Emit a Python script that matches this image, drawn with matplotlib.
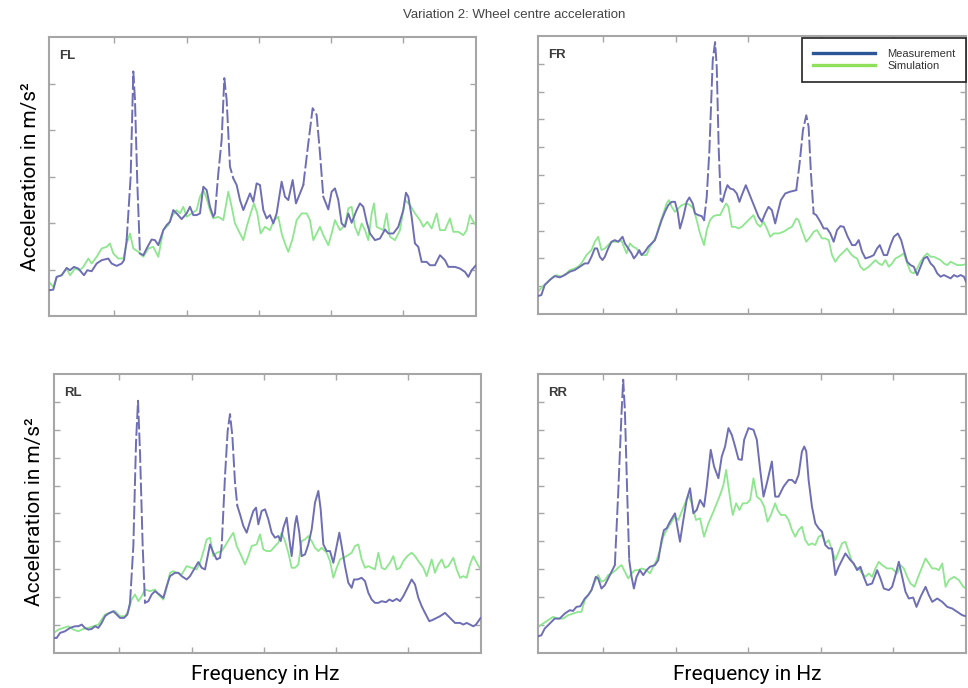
import numpy as np
import matplotlib
matplotlib.use("Agg")
import matplotlib.pyplot as plt
from matplotlib.lines import Line2D

# spectra per wheel: frequency (Hz) and acceleration (m/s^2)
fl_meas_f = [0.0, 1.3, 2.3, 3.8, 5.3, 6.3, 7.5, 8.8, 10.5, 11.5, 12.8, 14.3, 15.8, 17.8, 18.8, 20.3, 21.8, 22.5, 23.3, 24.5,
             25.3, 25.8, 26.5, 27.3, 28.3, 29.3, 30.8, 31.8, 32.8, 34.3, 35.3, 36.3, 37.3, 38.3, 39.8, 41.3, 42.3, 43.3, 44.3, 45.3,
             46.3, 47.3, 48.3, 49.3, 49.8, 50.8, 51.8, 52.6, 53.3, 54.3, 55.3, 56.3, 57.3, 58.3, 59.3, 60.3, 61.3, 62.3, 63.3, 64.3,
             65.3, 66.3, 67.3, 68.3, 69.8, 70.8, 71.8, 73.1, 74.1, 75.3, 76.3, 77.8, 79.1, 80.3, 81.3, 82.3, 83.8, 84.8, 85.8, 86.8,
             87.8, 88.8, 89.8, 90.8, 92.3, 93.3, 94.3, 95.3, 96.3, 97.8, 99.3, 100.8, 101.8, 103.3, 104.8, 106.3, 107.1, 107.8, 108.8, 109.8,
             110.8, 111.8, 113.3, 114.3, 115.8, 117.3, 118.8, 119.8, 121.8, 123.3, 124.8, 125.8, 126.8, 128.1]
fl_meas_a = [0.77, 0.79, 1.17, 1.22, 1.44, 1.37, 1.47, 1.42, 1.22, 1.37, 1.34, 1.57, 1.67, 1.72, 1.57, 1.50, 1.57, 1.67, 2.27, 4.17,
             7.32, 6.47, 3.97, 1.87, 1.82, 2.02, 2.29, 2.27, 2.12, 2.57, 2.72, 2.82, 3.17, 3.07, 2.90, 3.07, 3.27, 3.02, 3.02, 3.07,
             3.87, 3.77, 3.27, 2.97, 3.07, 4.27, 5.27, 7.12, 6.47, 4.47, 4.12, 3.92, 3.47, 3.17, 3.42, 3.67, 3.42, 3.97, 3.92, 3.17,
             2.92, 3.02, 2.77, 3.07, 4.02, 3.57, 3.47, 4.07, 3.37, 3.67, 3.92, 5.17, 6.22, 6.02, 4.87, 3.57, 3.19, 3.72, 3.82, 3.47,
             2.77, 2.67, 3.07, 2.79, 3.17, 3.37, 3.27, 2.82, 2.47, 2.27, 2.32, 2.59, 2.47, 2.47, 2.67, 3.17, 3.69, 3.57, 2.97, 2.17,
             2.07, 1.62, 1.62, 1.52, 1.52, 1.82, 1.67, 1.47, 1.47, 1.42, 1.32, 1.17, 1.37, 1.52]
fl_sim_f = [0.0, 1.3, 2.3, 3.8, 5.3, 6.3, 7.8, 9.3, 10.3, 11.8, 12.8, 14.3, 15.8, 17.3, 18.3, 19.3, 20.8, 22.3, 23.3, 24.3,
            25.3, 26.8, 28.3, 29.8, 31.3, 32.8, 34.3, 35.8, 36.8, 38.3, 39.3, 40.3, 41.3, 42.8, 44.3, 45.3, 46.3, 47.3, 48.3, 49.3,
            50.8, 52.3, 53.8, 54.8, 55.8, 57.3, 58.3, 59.3, 60.5, 61.5, 62.5, 63.5, 64.8, 66.3, 67.5, 68.8, 69.8, 70.8, 71.8, 73.1,
            74.3, 75.8, 77.3, 78.3, 79.3, 80.3, 81.3, 82.3, 83.8, 84.8, 85.8, 87.3, 88.8, 89.8, 90.8, 91.8, 92.8, 93.8, 94.8, 95.8,
            96.8, 97.5, 98.3, 99.3, 100.3, 101.3, 102.3, 103.8, 105.3, 106.8, 108.3, 109.8, 111.3, 112.3, 113.5, 114.8, 116.3, 117.3, 118.8, 120.3,
            121.3, 122.8, 124.3, 125.3, 126.3, 127.3, 128.1]
fl_sim_a = [1.02, 0.87, 1.17, 1.22, 1.42, 1.22, 1.42, 1.37, 1.47, 1.72, 1.57, 1.77, 2.02, 2.07, 2.17, 1.87, 1.72, 1.72, 2.17, 2.47,
            2.02, 1.92, 1.77, 2.02, 2.07, 1.77, 2.57, 2.72, 2.97, 3.17, 3.07, 3.27, 2.97, 3.07, 3.17, 3.57, 3.77, 3.52, 3.17, 2.92,
            2.97, 2.87, 3.72, 3.27, 2.77, 2.47, 2.27, 2.67, 3.07, 3.37, 3.07, 2.47, 2.67, 2.57, 2.87, 2.97, 2.47, 2.17, 1.92, 2.32,
            2.87, 3.07, 3.07, 2.87, 2.27, 2.47, 2.67, 2.42, 2.12, 2.47, 2.87, 2.57, 2.72, 3.22, 3.27, 2.67, 2.42, 2.77, 2.57, 2.27,
            3.07, 3.37, 2.67, 2.62, 2.57, 3.07, 2.37, 2.27, 2.57, 3.47, 3.32, 3.07, 2.87, 2.67, 2.82, 2.62, 3.07, 2.57, 2.57, 2.92,
            2.52, 2.52, 2.42, 2.57, 3.02, 2.82, 2.72]

fr_meas_f = [0.0, 1.0, 2.0, 3.5, 5.0, 6.5, 8.0, 9.5, 11.0, 12.5, 14.0, 15.0, 16.0, 17.0, 17.7, 18.5, 19.3, 20.0, 21.0, 22.0,
             23.0, 24.0, 25.3, 26.0, 27.0, 28.0, 28.7, 29.5, 30.3, 31.0, 32.0, 33.0, 34.0, 35.0, 36.0, 37.0, 38.0, 39.0, 40.0, 41.0,
             41.8, 42.5, 43.5, 44.5, 45.3, 46.3, 47.0, 48.0, 49.0, 49.7, 50.5, 51.3, 52.3, 53.0, 53.5, 54.1, 54.7, 55.2, 56.0, 56.7,
             57.5, 58.5, 59.5, 60.3, 61.0, 62.2, 63.0, 64.0, 65.0, 66.0, 67.0, 68.0, 69.0, 70.0, 71.0, 71.7, 72.7, 74.0, 75.3, 76.5,
             77.3, 78.3, 79.3, 80.3, 81.0, 81.7, 82.5, 83.3, 84.5, 85.5, 86.5, 87.5, 88.5, 89.5, 90.5, 91.5, 92.7, 94.0, 95.0, 96.0,
             97.0, 98.0, 99.5, 100.5, 101.5, 102.3, 103.5, 104.5, 105.5, 106.5, 107.7, 108.7, 109.5, 110.5, 111.5, 112.5, 113.5, 114.5, 115.5, 116.5,
             117.5, 118.5, 119.5, 120.5, 121.5, 122.5, 123.5, 124.5, 125.5, 126.5, 127.5, 128.1]
fr_meas_a = [0.54, 0.57, 0.87, 1.02, 1.14, 1.10, 1.17, 1.27, 1.32, 1.42, 1.52, 1.52, 1.72, 1.97, 1.97, 1.72, 1.62, 1.72, 1.97, 2.17,
             2.22, 2.17, 2.32, 2.12, 1.97, 1.82, 1.67, 1.77, 1.92, 1.77, 1.87, 2.02, 2.12, 2.22, 2.52, 2.82, 3.07, 3.27, 3.37, 3.37,
             3.07, 2.57, 2.92, 3.37, 3.50, 3.32, 3.02, 2.97, 2.94, 2.82, 3.52, 4.92, 7.62, 8.17, 7.42, 4.92, 3.42, 3.37, 3.67, 3.87,
             3.77, 3.74, 3.62, 3.37, 3.57, 3.87, 3.67, 3.42, 3.17, 2.92, 2.77, 3.02, 3.22, 3.12, 2.72, 3.02, 3.42, 3.62, 3.67, 3.70,
             3.72, 4.52, 5.52, 5.97, 5.62, 4.22, 3.02, 2.97, 2.77, 2.57, 2.57, 2.42, 2.17, 2.52, 2.64, 2.62, 2.32, 2.07, 2.07, 2.22,
             1.87, 1.67, 1.72, 1.77, 1.97, 2.07, 1.77, 1.77, 2.07, 2.32, 2.42, 2.22, 1.92, 1.57, 1.47, 1.42, 1.17, 1.42, 1.67, 1.72,
             1.52, 1.42, 1.22, 1.12, 1.17, 1.12, 1.07, 1.17, 1.12, 1.17, 1.12, 0.97]
fr_sim_f = [0.0, 1.5, 2.5, 4.0, 5.5, 7.0, 8.5, 9.5, 11.0, 12.0, 13.0, 14.5, 16.0, 17.0, 18.0, 19.0, 20.0, 21.0, 22.0, 23.5,
            25.0, 26.5, 27.5, 28.5, 29.5, 30.5, 31.5, 32.5, 33.5, 34.5, 35.5, 36.5, 37.5, 38.5, 39.2, 40.0, 41.0, 42.0, 43.0, 44.5,
            45.5, 46.5, 47.5, 48.5, 49.7, 50.5, 51.5, 52.5, 53.5, 54.5, 55.5, 56.3, 57.0, 58.0, 59.0, 60.0, 61.0, 62.5, 63.5, 64.5,
            65.5, 66.5, 67.5, 68.5, 69.5, 70.5, 72.0, 73.5, 75.0, 76.0, 77.3, 78.0, 79.0, 80.3, 81.5, 82.5, 83.5, 85.0, 86.0, 87.0,
            88.0, 89.0, 90.0, 91.5, 92.5, 93.5, 94.5, 95.5, 96.5, 97.5, 99.0, 100.0, 101.0, 102.0, 103.0, 104.0, 105.0, 106.0, 107.0, 108.0,
            109.5, 110.5, 111.5, 112.5, 113.5, 114.5, 115.5, 116.5, 117.5, 118.5, 119.5, 120.5, 121.5, 122.5, 123.5, 124.5, 125.5, 127.0, 128.1]
fr_sim_a = [0.67, 0.84, 0.92, 1.07, 1.17, 1.12, 1.22, 1.32, 1.37, 1.42, 1.52, 1.77, 1.92, 2.17, 2.32, 1.92, 1.97, 2.07, 2.17, 2.17,
            2.20, 1.82, 2.12, 2.02, 1.97, 1.82, 1.77, 1.77, 2.02, 2.17, 2.37, 2.72, 3.02, 3.32, 3.42, 3.22, 3.07, 3.17, 3.27, 3.32,
            3.27, 3.17, 2.82, 2.42, 2.07, 2.52, 2.82, 2.94, 2.97, 2.97, 3.17, 3.32, 3.22, 2.62, 2.62, 2.57, 2.62, 2.77, 2.87, 2.97,
            2.72, 2.62, 2.77, 2.57, 2.32, 2.42, 2.42, 2.47, 2.57, 2.62, 2.87, 2.82, 2.52, 2.17, 2.32, 2.47, 2.52, 2.27, 2.27, 2.22,
            1.77, 1.57, 1.72, 1.87, 1.97, 1.82, 1.72, 1.67, 1.42, 1.32, 1.42, 1.52, 1.62, 1.52, 1.47, 1.62, 1.42, 1.52, 1.67, 1.72,
            1.82, 1.52, 1.27, 1.22, 1.37, 1.57, 1.72, 1.82, 1.72, 1.72, 1.67, 1.62, 1.52, 1.47, 1.57, 1.52, 1.47, 1.47, 1.50]

rl_meas_f = [0.0, 0.8, 1.8, 3.3, 4.8, 6.3, 7.3, 8.3, 9.3, 10.3, 11.3, 12.3, 13.3, 14.3, 15.3, 16.3, 17.8, 18.8, 19.8, 21.0,
             22.0, 22.8, 23.8, 24.6, 25.2, 25.8, 26.6, 27.3, 28.3, 29.3, 30.3, 31.6, 32.8, 33.8, 34.8, 36.3, 37.3, 38.3, 39.8, 40.8,
             42.3, 43.3, 44.3, 45.3, 46.3, 46.8, 47.8, 48.8, 49.8, 50.3, 51.3, 52.1, 52.8, 53.5, 54.3, 55.0, 55.8, 56.8, 57.8, 59.0,
             59.8, 60.6, 61.3, 62.3, 63.3, 64.3, 65.3, 66.3, 67.3, 68.0, 68.8, 69.8, 70.6, 71.3, 72.3, 72.8, 73.6, 74.3, 75.3, 76.3,
             77.3, 78.3, 79.3, 80.0, 80.8, 81.8, 82.8, 83.8, 84.8, 85.6, 86.3, 87.3, 88.3, 89.3, 90.0, 91.0, 92.3, 93.3, 94.3, 95.3,
             96.3, 97.3, 98.3, 99.6, 100.6, 101.6, 102.8, 103.8, 104.8, 105.8, 107.3, 108.3, 109.3, 110.3, 111.3, 112.6, 113.8, 114.8, 115.8, 117.3,
             118.3, 119.3, 120.3, 121.8, 122.8, 123.8, 124.8, 125.8, 126.6, 128.0]
rl_meas_a = [0.45, 0.45, 0.60, 0.65, 0.75, 0.80, 0.80, 0.85, 0.75, 0.70, 0.72, 0.80, 0.75, 0.90, 1.10, 1.18, 1.25, 1.15, 1.05, 1.05,
             1.15, 1.50, 3.20, 6.30, 7.55, 6.00, 3.20, 1.50, 1.55, 1.75, 1.85, 1.75, 1.65, 2.00, 2.30, 2.40, 2.40, 2.30, 2.20, 2.30,
             2.55, 2.72, 2.55, 2.50, 3.00, 3.25, 3.00, 2.80, 2.85, 3.20, 5.30, 6.65, 7.15, 6.50, 5.10, 4.40, 4.15, 3.80, 3.60, 4.00,
             4.25, 4.35, 3.85, 4.25, 4.30, 4.00, 3.60, 3.45, 3.50, 3.35, 3.75, 4.05, 3.40, 2.90, 3.85, 4.10, 3.60, 2.90, 2.95, 3.25,
             3.70, 4.50, 4.85, 4.30, 3.25, 3.05, 3.05, 2.70, 3.20, 3.60, 3.20, 2.60, 2.10, 1.95, 2.20, 2.20, 2.25, 2.15, 1.80, 1.60,
             1.50, 1.50, 1.55, 1.52, 1.60, 1.55, 1.62, 1.55, 1.70, 1.90, 2.20, 2.05, 1.65, 1.40, 1.20, 0.95, 1.00, 1.05, 1.10, 1.20,
             1.10, 1.00, 0.90, 0.90, 0.85, 0.90, 0.85, 0.80, 0.85, 1.05]
rl_sim_f = [0.0, 1.3, 2.8, 4.3, 5.8, 7.3, 8.8, 10.3, 11.8, 13.3, 14.3, 15.3, 16.8, 18.3, 19.8, 21.3, 22.3, 23.3, 24.3, 25.3,
            26.3, 27.3, 28.8, 30.3, 31.3, 32.8, 33.8, 34.8, 35.8, 36.8, 38.3, 39.8, 41.3, 42.8, 43.8, 45.0, 45.8, 46.8, 47.8, 48.8,
            50.3, 51.3, 52.8, 53.8, 54.8, 56.0, 57.3, 58.3, 59.3, 60.8, 61.8, 62.8, 63.8, 65.0, 66.3, 67.3, 68.3, 69.3, 70.3, 71.3,
            72.3, 73.3, 74.3, 75.3, 76.3, 77.3, 78.3, 79.3, 80.3, 81.8, 82.8, 83.8, 84.8, 85.8, 86.8, 87.8, 89.3, 90.3, 91.3, 92.3,
            93.3, 94.3, 95.3, 96.3, 97.3, 98.3, 99.3, 100.8, 101.8, 102.8, 103.8, 104.8, 106.0, 107.3, 108.3, 109.3, 110.8, 111.8, 113.3, 114.3,
            115.3, 116.3, 117.3, 118.3, 119.8, 120.8, 121.8, 122.8, 123.8, 124.8, 125.8, 126.8, 128.0]
rl_sim_a = [0.60, 0.70, 0.75, 0.80, 0.70, 0.65, 0.72, 0.75, 0.80, 0.85, 1.00, 1.15, 1.20, 1.25, 1.10, 1.10, 1.25, 1.60, 1.75, 1.55,
            1.70, 1.90, 1.85, 1.90, 1.75, 1.60, 1.95, 2.40, 2.45, 2.40, 2.35, 2.60, 2.55, 2.50, 2.70, 3.10, 3.40, 3.45, 2.90, 3.00,
            3.05, 3.20, 3.45, 3.60, 3.20, 2.95, 2.65, 2.90, 3.20, 3.25, 3.55, 3.10, 3.05, 3.05, 3.20, 3.30, 3.60, 3.35, 3.00, 2.55,
            2.55, 2.65, 3.35, 3.40, 3.50, 3.35, 3.15, 3.05, 3.15, 3.00, 2.75, 2.25, 2.55, 2.80, 2.85, 2.90, 3.00, 3.20, 3.25, 2.80,
            2.55, 2.60, 2.55, 2.50, 3.00, 2.55, 2.50, 2.70, 2.90, 2.50, 2.55, 2.75, 2.90, 3.00, 2.90, 2.75, 2.55, 2.30, 2.80, 2.40,
            2.65, 2.80, 2.55, 2.60, 2.85, 2.50, 2.25, 2.30, 2.25, 2.65, 2.90, 2.70, 2.50]

rr_meas_f = [0.0, 1.0, 2.0, 3.5, 5.0, 6.5, 8.0, 9.5, 10.5, 11.5, 12.7, 14.0, 15.0, 16.0, 17.3, 18.0, 19.0, 20.0, 21.0, 22.0,
             23.0, 24.0, 25.0, 25.5, 26.0, 26.7, 27.3, 28.0, 28.7, 29.5, 30.5, 31.5, 32.5, 33.5, 35.0, 36.0, 37.0, 37.7, 38.5, 39.5,
             41.0, 41.7, 42.5, 43.5, 44.5, 45.5, 46.5, 47.5, 48.5, 49.7, 50.5, 51.7, 52.7, 54.0, 55.0, 56.0, 57.0, 58.0, 59.0, 60.0,
             61.0, 61.7, 63.0, 64.5, 65.5, 66.5, 67.5, 68.5, 70.0, 71.0, 72.0, 73.5, 75.0, 76.0, 77.0, 78.0, 79.0, 79.7, 80.3, 81.0,
             82.0, 83.0, 84.0, 85.0, 86.0, 87.0, 88.0, 89.0, 90.0, 91.0, 92.0, 93.5, 94.5, 95.5, 96.5, 97.5, 98.5, 100.0, 101.5, 102.5,
             103.5, 105.0, 106.0, 107.0, 108.0, 109.0, 110.0, 111.0, 112.3, 113.3, 114.5, 116.0, 117.0, 118.0, 119.5, 121.0, 122.5, 124.0, 125.5, 127.0,
             128.1]
rr_meas_a = [0.50, 0.53, 0.73, 0.88, 1.03, 1.03, 1.18, 1.28, 1.26, 1.38, 1.40, 1.63, 1.73, 1.88, 2.28, 2.23, 1.93, 2.03, 2.23, 2.43,
             2.63, 4.78, 7.18, 8.18, 7.28, 4.78, 2.78, 2.28, 1.93, 2.28, 2.48, 2.33, 2.48, 2.58, 2.63, 2.78, 3.38, 3.68, 3.73, 3.93,
             4.18, 3.78, 3.33, 3.98, 4.58, 4.93, 4.18, 4.28, 4.58, 4.38, 4.98, 6.08, 5.58, 5.23, 5.88, 6.18, 6.73, 6.53, 6.18, 5.80,
             5.78, 6.38, 6.73, 6.68, 6.38, 5.48, 4.68, 5.08, 5.73, 4.68, 4.68, 4.98, 5.18, 5.18, 5.08, 5.33, 6.03, 6.18, 6.03, 5.18,
             4.38, 3.88, 3.73, 3.63, 3.23, 3.13, 3.13, 2.33, 2.58, 2.78, 2.98, 2.78, 2.68, 2.48, 2.58, 2.28, 2.03, 2.08, 2.48, 2.23,
             1.93, 1.88, 1.98, 2.33, 2.73, 2.28, 1.83, 1.63, 1.66, 1.38, 1.68, 1.98, 1.73, 1.53, 1.63, 1.53, 1.38, 1.33, 1.23, 1.13,
             1.10]
rr_sim_f = [0.0, 1.5, 3.0, 4.5, 6.0, 7.5, 9.0, 10.5, 12.0, 13.0, 14.0, 15.0, 16.0, 17.0, 18.0, 19.0, 20.0, 21.0, 22.0, 23.3,
            24.3, 25.0, 26.0, 27.0, 28.0, 29.0, 30.0, 31.0, 32.5, 33.5, 34.5, 35.5, 36.5, 37.5, 38.5, 40.0, 41.0, 42.0, 43.0, 44.0,
            45.0, 46.0, 47.3, 48.5, 49.7, 51.0, 52.5, 53.5, 54.5, 55.5, 56.3, 57.0, 57.7, 58.3, 59.3, 60.3, 61.3, 62.5, 63.5, 64.5,
            65.5, 66.7, 67.7, 68.7, 69.7, 71.0, 71.7, 72.7, 74.0, 75.0, 76.0, 77.0, 78.0, 79.0, 80.0, 81.0, 82.0, 83.0, 84.0, 85.0,
            86.0, 87.0, 88.0, 89.0, 90.0, 91.0, 92.0, 93.0, 94.0, 95.0, 96.0, 97.0, 98.0, 99.0, 100.0, 101.0, 102.0, 103.0, 104.5, 106.0,
            107.5, 108.5, 109.5, 110.5, 111.5, 112.7, 113.8, 115.0, 116.0, 117.0, 118.0, 119.0, 120.0, 121.0, 122.0, 123.0, 124.5, 126.0, 127.3, 128.1]
rr_sim_a = [0.78, 0.88, 0.98, 1.08, 1.03, 1.03, 1.13, 1.18, 1.23, 1.23, 1.58, 1.73, 1.88, 2.13, 2.33, 2.13, 2.18, 2.33, 2.38, 2.48,
            2.58, 2.63, 2.43, 2.23, 2.38, 2.48, 2.48, 2.53, 2.48, 2.38, 2.58, 2.78, 3.08, 3.48, 3.68, 3.93, 4.08, 3.98, 4.23, 4.48,
            4.73, 4.48, 3.98, 4.03, 3.48, 3.88, 4.23, 4.48, 4.73, 5.03, 5.48, 4.98, 4.48, 4.13, 4.48, 4.28, 4.48, 4.48, 4.58, 5.23,
            4.68, 4.58, 4.38, 3.93, 4.13, 4.48, 4.28, 4.13, 4.13, 3.98, 3.68, 3.48, 3.68, 3.78, 3.38, 3.23, 3.28, 3.23, 3.48, 3.53,
            3.28, 3.38, 3.08, 2.78, 3.03, 3.28, 3.33, 3.03, 2.73, 2.58, 2.53, 2.38, 2.28, 2.38, 2.28, 2.53, 2.73, 2.63, 2.53, 2.53,
            2.38, 2.63, 2.53, 2.28, 2.08, 1.98, 2.28, 2.58, 2.83, 2.68, 2.53, 2.53, 2.48, 2.68, 1.98, 2.18, 2.28, 2.18, 1.98, 1.93]

# resonance peaks where the measured trace is drawn dashed
fl_peaks = [(23.3, 27.3), (49.8, 55.3), (76.3, 82.3)]
fr_peaks = [(49.7, 54.7), (77.3, 82.5)]
rl_peaks = [(22.8, 27.3), (49.8, 55.0)]
rr_peaks = [(23.0, 27.3)]

meas_color = '#6e6eb4'
sim_color = '#8ee68e'
frame_color = '#a6a6a6'
label_font = ['Roboto', 'DejaVu Sans']

fig = plt.figure(figsize=(9.68, 6.88), dpi=100)
ax_fl = fig.add_axes([0.0506, 0.5407, 0.4411, 0.4055])
ax_fr = fig.add_axes([0.5558, 0.5436, 0.4421, 0.4040])
ax_rl = fig.add_axes([0.0558, 0.0509, 0.4411, 0.4055])
ax_rr = fig.add_axes([0.5558, 0.0509, 0.4421, 0.4055])


def draw_panel(ax, name, mf, ma, sf, sa, peaks, ny):
    mf = np.array(mf)
    ma = np.array(ma)
    ax.plot(sf, sa, color=sim_color, lw=1.3, zorder=2)
    solid = ma.copy()
    for lo, hi in peaks:
        solid[(mf > lo) & (mf < hi)] = np.nan
        seg = (mf >= lo) & (mf <= hi)
        ax.plot(mf[seg], ma[seg], color=meas_color, lw=1.4, dashes=(7, 1.6), zorder=3)
    ax.plot(mf, solid, color=meas_color, lw=1.4, zorder=3)

    ax.set_xlim(0, 128.1)
    ax.set_ylim(0, 8.35)
    ax.set_xticks([19.6, 41.3, 62.9, 84.6, 106.3])
    ax.set_yticks(np.arange(1, ny) * 8.35 / ny)
    ax.tick_params(direction='in', top=True, right=True, length=4, width=1,
                   color=frame_color, labelbottom=False, labelleft=False)
    for sp in ax.spines.values():
        sp.set_color(frame_color)
        sp.set_linewidth(1.5)
    ax.text(0.024, 0.955, name, transform=ax.transAxes, fontsize=9.5, fontweight='bold',
            color='#3c3c3c', va='top', family=['Liberation Sans', 'DejaVu Sans'])


draw_panel(ax_fl, 'FL', fl_meas_f, fl_meas_a, fl_sim_f, fl_sim_a, fl_peaks, 6)
draw_panel(ax_fr, 'FR', fr_meas_f, fr_meas_a, fr_sim_f, fr_sim_a, fr_peaks, 10)
draw_panel(ax_rl, 'RL', rl_meas_f, rl_meas_a, rl_sim_f, rl_sim_a, rl_peaks, 10)
draw_panel(ax_rr, 'RR', rr_meas_f, rr_meas_a, rr_sim_f, rr_sim_a, rr_peaks, 10)

handles = [Line2D([], [], color='#2c5596', lw=2.4), Line2D([], [], color='#8fe05a', lw=2.4)]
leg = ax_fr.legend(handles, ['Measurement', 'Simulation'], loc='upper right', bbox_to_anchor=(1, 0.993),
                   borderaxespad=0, handlelength=5.6, handletextpad=1.1, labelspacing=0.25,
                   borderpad=0.95, fancybox=False, framealpha=1, edgecolor='#222222',
                   prop={'family': ['Liberation Sans', 'DejaVu Sans'], 'size': 8})
leg.get_frame().set_linewidth(1.2)
for t in leg.get_texts():
    t.set_color('#333333')

fig.text(0.531, 0.978, 'Variation 2: Wheel centre acceleration', ha='center', va='center',
         fontsize=9.5, color='#444444', family=['Liberation Sans', 'DejaVu Sans'])

fig.text(0.031, 0.743, 'Acceleration in m/s²', rotation=90, ha='center', va='center',
         fontsize=15, family=label_font)
fig.text(0.036, 0.256, 'Acceleration in m/s²', rotation=90, ha='center', va='center',
         fontsize=15, family=label_font)
fig.text(0.274, 0.020, 'Frequency in Hz', ha='center', va='center', fontsize=15, family=label_font)
fig.text(0.772, 0.020, 'Frequency in Hz', ha='center', va='center', fontsize=15, family=label_font)

fig.savefig('out.png', dpi=100)
